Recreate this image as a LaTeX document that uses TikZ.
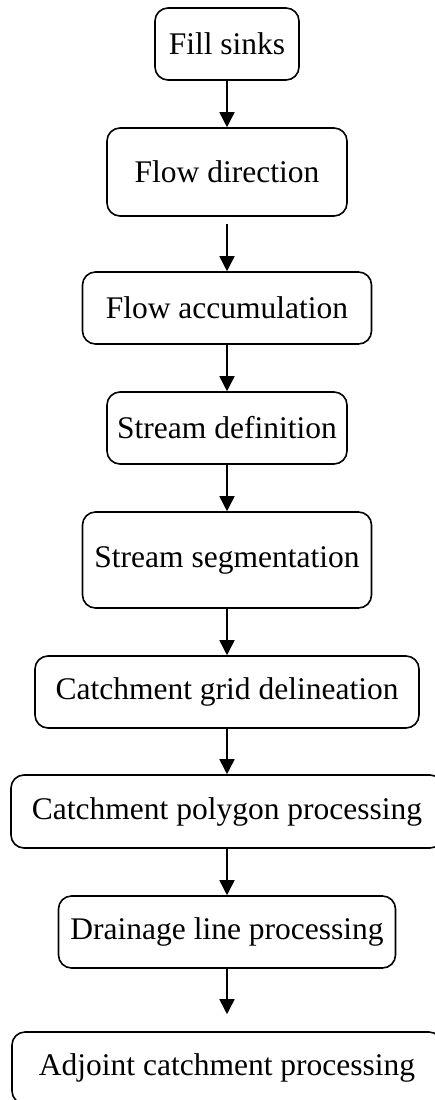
\documentclass[tikz,border=0pt]{standalone}
\usepackage{fontspec}
\setmainfont{Liberation Serif}
\usetikzlibrary{arrows.meta}
\begin{document}
\begin{tikzpicture}[>={Triangle[length=15bp,width=15bp]},line join=bevel,
  stepbox/.style={draw,line width=1.6bp,rounded corners=13bp,inner sep=0pt,
    minimum height=72bp,font=\fontsize{31.5bp}{38bp}\selectfont},
  flow/.style={black,line width=1.6bp,->}]
%%
\useasboundingbox (0bp,0bp) rectangle (435bp,-1100bp);
\node (fillsinks) at (227bp,-44bp) [stepbox,minimum width=144bp] {Fill sinks};
  \node (flowdir) at (227bp,-172bp) [stepbox,minimum width=240bp,minimum height=88bp] {Flow direction};
  \node (flowacc) at (227bp,-308bp) [stepbox,minimum width=289bp] {Flow accumulation};
  \node (streamdef) at (227bp,-428bp) [stepbox,minimum width=240bp] {Stream definition};
  \node (streamseg) at (227bp,-560bp) [stepbox,minimum width=289bp,minimum height=96bp] {Stream segmentation};
  \node (catgrid) at (227bp,-692bp) [stepbox,minimum width=384bp] {Catchment grid delineation};
  \node (catpoly) at (227bp,-811.5bp) [stepbox,minimum width=432bp,minimum height=73bp] {Catchment polygon processing};
  \node (drainline) at (227bp,-932bp) [stepbox,minimum width=337bp] {Drainage line processing};
  \node (adjcat) at (227bp,-1068bp) [stepbox,minimum width=430bp] {Adjoint catchment processing};
  \draw [flow] (fillsinks) -- (flowdir);
  \draw [flow] ([yshift=-7bp]flowdir.south) -- (flowacc);
  \draw [flow] (flowacc) -- (streamdef);
  \draw [flow] (streamdef) -- (streamseg);
  \draw [flow] (streamseg) -- (catgrid);
  \draw [flow] (catgrid) -- (catpoly);
  \draw [flow] (catpoly) -- (drainline);
  \draw [flow] (drainline) -- ([yshift=17bp]adjcat.north);
%
\end{tikzpicture}
\end{document}
